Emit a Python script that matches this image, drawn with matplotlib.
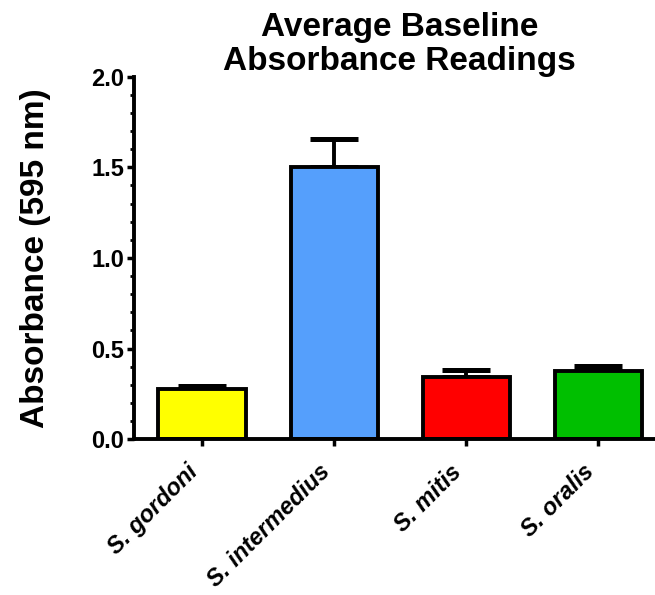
import matplotlib.pyplot as plt
import numpy as np

# data
species = ['S. gordoni', 'S. intermedius', 'S. mitis', 'S. oralis']
means = [0.274, 1.50, 0.345, 0.377]
errors = [0.018, 0.155, 0.037, 0.028]
colors = ['#ffff00', '#559ffc', '#ff0000', '#00bf00']

plt.rcParams['font.family'] = ['Liberation Sans', 'DejaVu Sans']
plt.rcParams['font.weight'] = 'bold'

fig = plt.figure(figsize=(6.55, 5.95), dpi=100)
ax = fig.add_axes([0.2046, 0.262, 0.81, 0.609])

x = np.arange(len(species))
ax.bar(x, means, width=0.66, color=colors, edgecolor='black', linewidth=2.8, zorder=2)
ax.errorbar(x, means, yerr=[np.zeros(len(means)), errors], fmt='none', ecolor='black',
            elinewidth=2.8, capsize=17, capthick=3.6, zorder=1)

ax.set_xlim(-0.515, 3.5)
ax.set_ylim(0, 2.0)
ax.set_yticks([0.0, 0.5, 1.0, 1.5, 2.0])
ax.set_yticklabels(['0.0', '0.5', '1.0', '1.5', '2.0'], fontsize=17, fontweight='bold')
ax.set_yticks(np.arange(0, 2.01, 0.1), minor=True)
ax.set_xticks(x)
ax.set_xticklabels(species, rotation=45, ha='right', va='bottom', rotation_mode='anchor',
                   fontsize=17, fontweight='bold', fontstyle='italic')

for spine in ['top', 'right']:
    ax.spines[spine].set_visible(False)
for spine in ['left', 'bottom']:
    ax.spines[spine].set_linewidth(2.8)
ax.tick_params(which='major', length=5, width=2.5, pad=2)
ax.tick_params(which='minor', length=3, width=2.0)
ax.tick_params(axis='x', which='minor', length=0)
ax.tick_params(axis='x', which='major', pad=22)

ax.set_ylabel('Absorbance (595 nm)', fontsize=24, fontweight='bold', labelpad=29)
ax.set_title('Average Baseline\nAbsorbance Readings', fontsize=24, fontweight='bold', pad=2,
             linespacing=1.1)

fig.savefig('out.png', dpi=100)
